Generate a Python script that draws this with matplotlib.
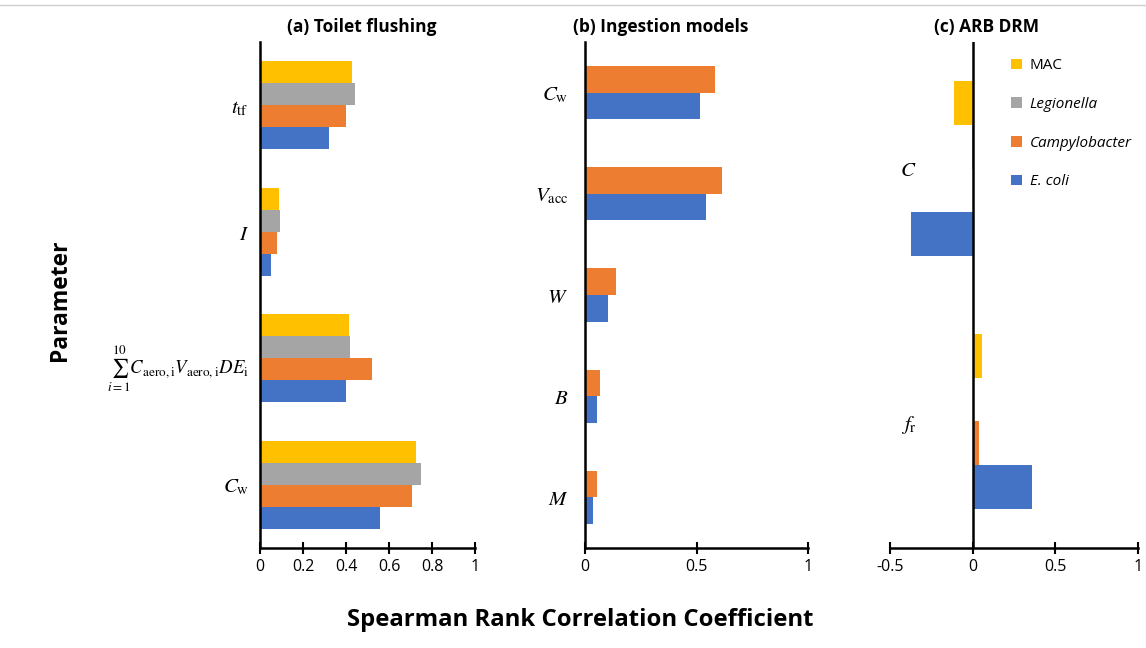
import numpy as np
import matplotlib
matplotlib.use("Agg")
import matplotlib.pyplot as plt
from matplotlib.lines import Line2D

plt.rcParams['font.family'] = ['Open Sans', 'DejaVu Sans']
plt.rcParams['mathtext.fontset'] = 'stix'

# colours (Excel default palette)
c_ecoli = '#4472C4'
c_campy = '#ED7D31'
c_legio = '#A5A5A5'
c_mac = '#FFC000'

# (a) Toilet flushing, categories bottom -> top
params_a = [r'$C_{\mathrm{w}}$',
            r'$\sum_{i=1}^{10} C_{\mathrm{aero,i}}V_{\mathrm{aero,i}}DE_{\mathrm{i}}$',
            r'$I$', r'$t_{\mathrm{tf}}$']
ecoli_a = [0.56, 0.40, 0.05, 0.32]
campy_a = [0.705, 0.52, 0.08, 0.40]
legio_a = [0.75, 0.42, 0.095, 0.44]
mac_a = [0.725, 0.415, 0.09, 0.43]

# (b) Ingestion models
params_b = [r'$M$', r'$B$', r'$W$', r'$V_{\mathrm{acc}}$', r'$C_{\mathrm{w}}$']
ecoli_b = [0.036, 0.054, 0.103, 0.543, 0.516]
campy_b = [0.054, 0.067, 0.14, 0.614, 0.583]

# (c) ARB DRM
params_c = [r'$f_{\mathrm{r}}$', r'$C$']
ecoli_c = [0.36, -0.375]
campy_c = [0.04, 0.003]
legio_c = [0.004, -0.004]
mac_c = [0.055, -0.115]

W, H = 1146, 648
fig = plt.figure(figsize=(W / 100, H / 100), dpi=100)

top = 1 - 42 / H
bot = 1 - 548 / H
ax_a = fig.add_axes([260 / W, bot, 215 / W, top - bot])
ax_b = fig.add_axes([585 / W, bot, 223 / W, top - bot])
ax_c = fig.add_axes([890 / W, bot, 248 / W, top - bot])

# panel a
y = np.arange(len(params_a))
h = 0.173
ax_a.barh(y - 1.5 * h, ecoli_a, h, color=c_ecoli)
ax_a.barh(y - 0.5 * h, campy_a, h, color=c_campy)
ax_a.barh(y + 0.5 * h, legio_a, h, color=c_legio)
ax_a.barh(y + 1.5 * h, mac_a, h, color=c_mac)
ax_a.set_xlim(0, 1)
ax_a.set_xticks([0, 0.2, 0.4, 0.6, 0.8, 1])
ax_a.set_xticklabels(['0', '0.2', '0.4', '0.6', '0.8', '1'])
ax_a.set_ylim(-0.5, len(params_a) - 0.5)
ax_a.set_yticks(y)
ax_a.set_yticklabels(params_a, fontsize=15)
ax_a.get_yticklabels()[1].set_fontsize(13.5)
ax_a.tick_params(axis='y', length=0, pad=8)

# panel b
y = np.arange(len(params_b))
h = 0.262
ax_b.barh(y - 0.5 * h, ecoli_b, h, color=c_ecoli)
ax_b.barh(y + 0.5 * h, campy_b, h, color=c_campy)
ax_b.set_xlim(0, 1)
ax_b.set_xticks([0, 0.5, 1])
ax_b.set_xticklabels(['0', '0.5', '1'])
ax_b.set_ylim(-0.5, len(params_b) - 0.5)
ax_b.set_yticks(y)
ax_b.set_yticklabels(params_b, fontsize=15)
ax_b.tick_params(axis='y', length=0, pad=12)

# panel c
y = np.arange(len(params_c))
h = 0.172
ax_c.barh(y - 1.5 * h, ecoli_c, h, color=c_ecoli, label='E. coli')
ax_c.barh(y - 0.5 * h, campy_c, h, color=c_campy, label='Campylobacter')
ax_c.barh(y + 0.5 * h, legio_c, h, color=c_legio, label='Legionella')
ax_c.barh(y + 1.5 * h, mac_c, h, color=c_mac, label='MAC')
ax_c.set_xlim(-0.5, 1)
ax_c.set_xticks([-0.5, 0, 0.5, 1])
ax_c.set_xticklabels(['-0.5', '0', '0.5', '1'])
ax_c.set_ylim(-0.5, len(params_c) - 0.5)
ax_c.set_yticks(y)
ax_c.set_yticklabels(params_c, fontsize=15)
ax_c.tick_params(axis='y', length=0, pad=-19)
ax_c.spines['left'].set_visible(False)
ax_c.axvline(0, color='black', lw=1.8, zorder=3)

handles, labels = ax_c.get_legend_handles_labels()
leg = ax_c.legend(handles[::-1], labels[::-1], loc='upper right',
                  bbox_to_anchor=(1.03, 0.995), frameon=False,
                  handlelength=0.7, handleheight=0.7, handletextpad=0.5,
                  labelspacing=1.55, fontsize=11)
for t in leg.get_texts():
    if t.get_text() != 'MAC':
        t.set_fontstyle('italic')

for ax in (ax_a, ax_b, ax_c):
    ax.spines['top'].set_visible(False)
    ax.spines['right'].set_visible(False)
    ax.spines['left'].set_linewidth(1.8)
    ax.spines['bottom'].set_linewidth(1.8)
    ax.tick_params(axis='x', direction='inout', length=8, width=1.5,
                   labelsize=11.5, pad=4)

fig.text(362 / W, 1 - 27 / H, '(a) Toilet flushing', ha='center', va='center',
         fontsize=12.5, fontweight='bold')
fig.text(661 / W, 1 - 27 / H, '(b) Ingestion models', ha='center', va='center',
         fontsize=12.5, fontweight='bold')
fig.text(986 / W, 1 - 27 / H, '(c) ARB DRM', ha='center', va='center',
         fontsize=12.5, fontweight='bold')
fig.text(60 / W, 1 - 300 / H, 'Parameter', rotation=90, ha='center',
         va='center', fontsize=16.5, fontweight='bold')
fig.text(580 / W, 1 - 620 / H, 'Spearman Rank Correlation Coefficient',
         ha='center', va='center', fontsize=17.2, fontweight='bold')

# thin border line along the top of the figure
fig.add_artist(Line2D([0, 1], [1 - 5 / H, 1 - 5 / H], color='#D0D0D0',
                      lw=1, transform=fig.transFigure))

fig.savefig('out.png', dpi=100)
